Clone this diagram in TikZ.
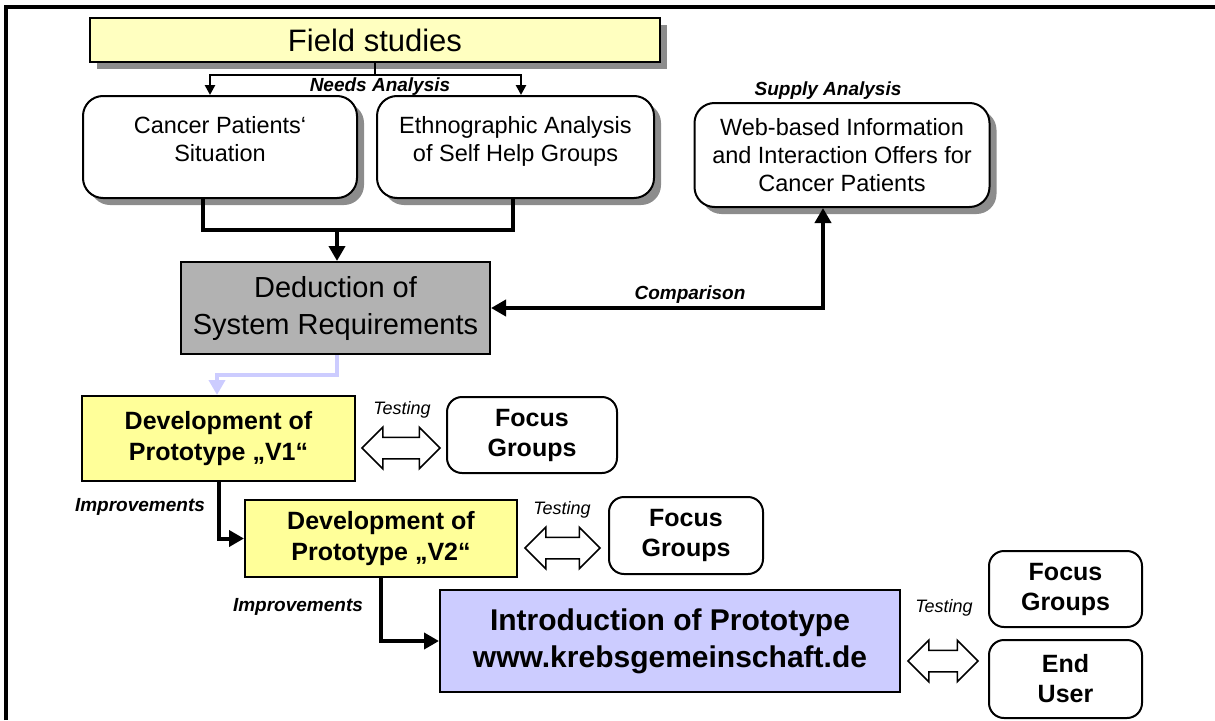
\documentclass[tikz,border=0pt]{standalone}
\usepackage{fontspec}
\setmainfont{Liberation Sans}
\usepackage{xcolor}
\usepackage{tikz}
\usetikzlibrary{arrows.meta}
\usetikzlibrary{shapes.arrows}
\usetikzlibrary{shadows}

\definecolor{fieldyellow}{RGB}{255,255,192}
\definecolor{protoyellow}{RGB}{255,255,153}
\definecolor{lavender}{RGB}{204,204,255}
\definecolor{dedgray}{RGB}{178,178,178}

\tikzset{
  shadowed/.style={drop shadow={shadow xshift=7pt,shadow yshift=-7pt,fill=black!45,opacity=1}},
  rbox/.style={draw,line width=2pt,rounded corners=20pt,fill=white,align=center,inner sep=0pt,
    font=\fontsize{23.5}{28}\selectfont},
  fbox/.style={draw,line width=2pt,rounded corners=15pt,fill=white,align=center,inner sep=0pt,
    font=\fontsize{25}{30}\selectfont\bfseries},
  sbox/.style={draw,line width=2pt,align=center,inner sep=0pt},
  tag/.style={font=\fontsize{19}{22}\selectfont\bfseries\itshape},
  testtag/.style={font=\fontsize{18}{22}\selectfont\itshape},
  thinarrow/.style={line width=2.5pt,-{Triangle[length=10pt,width=10pt]}},
  thickarrow/.style={line width=4pt,-{Triangle[length=15pt,width=16pt]}},
  hollow/.style={double arrow,draw,line width=1.5pt,fill=white,inner xsep=0pt,inner ysep=10pt,
    double arrow head extend=10pt,double arrow head indent=0pt}
}

\begin{document}
\begin{tikzpicture}[x=1pt,y=-1pt]
  \useasboundingbox (0,0) rectangle (1215,720);
  \draw[line width=4pt] (6,720) -- (6,7) -- (1215,7);

  \node[sbox,shadowed,fill=fieldyellow,minimum width=570pt,minimum height=44pt,
    font=\fontsize{31}{36}\selectfont] (field) at (375,40) {Field studies};
  \node[rbox,shadowed,minimum width=274pt,minimum height=102pt,text depth=16pt] (cps) at (220,147)
    {Cancer Patients‘\\Situation};
  \node[rbox,shadowed,minimum width=277pt,minimum height=102pt,text depth=16pt] (eth) at (515.5,147)
    {Ethnographic Analysis\\of Self Help Groups};
  \node[rbox,shadowed,minimum width=295pt,minimum height=104pt] (web) at (842,155)
    {Web-based Information\\and Interaction Offers for\\Cancer Patients};
  \node[tag] (needs) at (380,87) {Needs Analysis};
  \node[tag] (supply) at (828,91) {Supply Analysis};

  \node[sbox,fill=dedgray,minimum width=309pt,minimum height=92pt,
    font=\fontsize{29}{37}\selectfont] (deduct) at (335.5,308) {Deduction of\\System Requirements};
  \node[tag] (compare) at (690,295) {Comparison};

  \node[sbox,fill=protoyellow,minimum width=273pt,minimum height=85pt,
    font=\fontsize{25}{31}\selectfont\bfseries] (vone) at (218.5,438.5) {Development of\\Prototype „V1“};
  \node[fbox,minimum width=170pt,minimum height=76pt] (fgone) at (532,435) {Focus\\Groups};
  \node[testtag] (testone) at (402,410) {Testing};
  \node[hollow,minimum height=78pt] (dblone) at (401,448) {};

  \node[sbox,fill=protoyellow,minimum width=272pt,minimum height=77pt,
    font=\fontsize{25}{31}\selectfont\bfseries] (vtwo) at (381,538.5) {Development of\\Prototype „V2“};
  \node[fbox,minimum width=154pt,minimum height=77pt] (fgtwo) at (686,535.5) {Focus\\Groups};
  \node[testtag] (testtwo) at (562,510) {Testing};
  \node[hollow,minimum height=75pt] (dbltwo) at (562.5,548) {};
  \node[tag] (impone) at (140,507) {Improvements};

  \node[sbox,fill=lavender,minimum width=460pt,minimum height=102pt,
    font=\fontsize{30}{37}\selectfont\bfseries] (intro) at (670,641)
    {Introduction of Prototype\\www.krebsgemeinschaft.de};
  \node[tag] (imptwo) at (298,607) {Improvements};
  \node[testtag] (testthree) at (944,608) {Testing};
  \node[hollow,minimum height=70pt] (dblthree) at (943,661) {};
  \node[fbox,minimum width=153pt,minimum height=76pt] (fgthree) at (1065.5,589) {Focus\\Groups};
  \node[fbox,minimum width=153pt,minimum height=78pt] (enduser) at (1065.5,679) {End\\User};

  % connectors
  \draw[line width=2.5pt] (field.south) -- (375,75) coordinate (split);
  \draw[thinarrow] (split) -| ([xshift=-10pt]cps.north);
  \draw[thinarrow] (split) -| ([xshift=5.5pt]eth.north);
  \draw[line width=4pt] ([xshift=-17pt]cps.south) |- (337,230) coordinate (join);
  \draw[line width=4pt] ([xshift=-2.5pt]eth.south) |- (join);
  \draw[thickarrow] (join) -- ([xshift=1.5pt]deduct.north);
  \draw[line width=4pt,{Triangle[length=15pt,width=16pt]}-{Triangle[length=15pt,width=16pt]}]
    (deduct.east) -| ([xshift=-19pt]web.south);
  \draw[line width=4pt,lavender,-{Triangle[length=15pt,width=16pt]}]
    ([xshift=1pt]deduct.south) |- (217,375) -- (vone.north -| 217,0);
  \draw[thickarrow] (vone.south) |- (vtwo.west);
  \draw[thickarrow] (vtwo.south) |- (intro.west);
\end{tikzpicture}
\end{document}
